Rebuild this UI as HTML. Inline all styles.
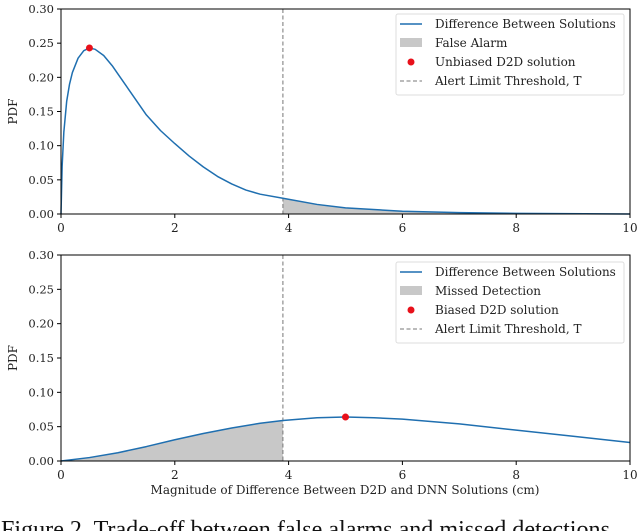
<!DOCTYPE html>
<html><head><meta charset="utf-8"><style>
html,body{margin:0;padding:0;background:#fff;overflow:hidden}
svg{display:block}
text{font-family:"DejaVu Serif","Liberation Serif",serif}
</style></head><body>
<svg id="c" width="640" height="531"></svg>
<script>
const topX=[0,0.02,0.05,0.1,0.15,0.2,0.3,0.4,0.5,0.6,0.75,0.9,1.0,1.25,1.5,1.75,2.0,2.25,2.5,2.75,3.0,3.25,3.5,3.9,4.5,5,6,7,8,10];
const topY=[0.0,0.07,0.12,0.165,0.19,0.207,0.228,0.239,0.243,0.241,0.232,0.217,0.205,0.175,0.145,0.122,0.103,0.085,0.069,0.055,0.044,0.035,0.029,0.023,0.014,0.009,0.004,0.002,0.001,0.0];
const botX=[0,0.5,1,1.5,2,2.5,3,3.5,3.9,4.5,5,5.5,6,7,8,9,10];
const botY=[0,0.005,0.012,0.021,0.031,0.040,0.048,0.055,0.059,0.063,0.064,0.063,0.061,0.054,0.045,0.036,0.027];
const threshold=3.9;
const topMarker=[0.5,0.243];
const botMarker=[5,0.064];
const xTicks=[0,2,4,6,8,10];
const yTicks=[0,0.05,0.10,0.15,0.20,0.25,0.30];
const topLegend=["Difference Between Solutions","False Alarm","Unbiased D2D solution","Alert Limit Threshold, T"];
const botLegend=["Difference Between Solutions","Missed Detection","Biased D2D solution","Alert Limit Threshold, T"];
const NS="http://www.w3.org/2000/svg";
const svg=document.getElementById('c');
function mk(tag,attrs,parent){const e=document.createElementNS(NS,tag);for(const k in attrs)e.setAttribute(k,attrs[k]);(parent||svg).appendChild(e);return e;}
function interp(xs,ys,x){for(let i=0;i<xs.length-1;i++){if(x>=xs[i]&&x<=xs[i+1]){const t=(x-xs[i])/(xs[i+1]-xs[i]);return ys[i]+t*(ys[i+1]-ys[i]);}}return ys[ys.length-1];}
function panel(name,top,bottom,xs,ys,marker,legend,fillRight,lg){
  const L=61,R=630;
  const g=mk('g',{});
  
  
  const sx=v=>L+(R-L)*v/10, sy=v=>bottom-(bottom-top)*v/0.30;
  let fx=fillRight?xs.filter(v=>v>threshold):xs.filter(v=>v<threshold);
  fx=fillRight?[threshold,...fx]:[...fx,threshold];
  let d='M'+sx(fx[0])+','+sy(0);
  fx.forEach(v=>d+=' L'+sx(v)+','+sy(interp(xs,ys,v)));
  d+=' L'+sx(fx[fx.length-1])+','+sy(0)+'Z';
  const f=mk('path',{d:d,fill:'#c8c8c8'},g);
  
  
  const th=mk('line',{x1:sx(threshold),x2:sx(threshold),y1:top,y2:bottom,stroke:'#777','stroke-width':1,'stroke-dasharray':'4,2.5'},g);
  
  
  const pts=xs.map((v,i)=>sx(v)+','+sy(ys[i])).join(' ');
  const ln=mk('polyline',{points:pts,fill:'none',stroke:'#1f6fb0','stroke-width':1.5,'stroke-linejoin':'round'},g);
  
  
  const m=mk('circle',{cx:sx(marker[0]),cy:sy(marker[1]),r:3.5,fill:'#e8101a'},g);
  
  
  const fr=mk('rect',{x:L,y:top,width:R-L,height:bottom-top,fill:'none',stroke:'#000','stroke-width':1},g);
  
  
  xTicks.forEach(v=>{
    mk('line',{x1:sx(v),x2:sx(v),y1:bottom,y2:bottom+4,stroke:'#000'},g);
    const t=mk('text',{x:sx(v),y:bottom+18,'font-size':12,'text-anchor':'middle',fill:'#222'},g);
    t.textContent=v;
    
    
  });
  yTicks.forEach(v=>{
    mk('line',{x1:L-4,x2:L,y1:sy(v),y2:sy(v),stroke:'#000'},g);
    const t=mk('text',{x:L-7,y:sy(v)+4,'font-size':11.5,'text-anchor':'end',fill:'#222'},g);
    t.textContent=v.toFixed(2);
    
    
  });
  const yl=mk('text',{x:0,y:0,'font-size':12,'text-anchor':'middle',fill:'#222',transform:`translate(17,${(top+bottom)/2}) rotate(-90)`},g);
  yl.textContent='PDF';
  
  
  const lgG=mk('g',{},g);
  
  
  mk('rect',{x:lg.x,y:lg.y,width:lg.w,height:lg.h,rx:2,fill:'#fff',stroke:'#ddd'},lgG);
  legend.forEach((s,i)=>{
    const cy=lg.y+10+i*19;
    if(i==0)mk('line',{x1:lg.x+4,x2:lg.x+26,y1:cy,y2:cy,stroke:'#1f6fb0','stroke-width':1.5},lgG);
    if(i==1)mk('rect',{x:lg.x+4,y:cy-5,width:22,height:9,fill:'#c8c8c8'},lgG);
    if(i==2)mk('circle',{cx:lg.x+15,cy:cy,r:3.5,fill:'#e8101a'},lgG);
    if(i==3)mk('line',{x1:lg.x+4,x2:lg.x+26,y1:cy,y2:cy,stroke:'#777','stroke-dasharray':'4,2.5'},lgG);
    const t=mk('text',{x:lg.x+39,y:cy+4,'font-size':12,fill:'#222'},lgG);
    t.textContent=s;
    
    
  });
}
panel('top-panel',9,214,topX,topY,topMarker,topLegend,true,{x:396,y:14,w:228,h:81});
panel('bottom-panel',255,461,botX,botY,botMarker,botLegend,false,{x:396,y:262,w:228,h:81});
const xl=mk('text',{x:345,y:494,'font-size':12,'text-anchor':'middle',fill:'#222'});
xl.textContent='Magnitude of Difference Between D2D and DNN Solutions (cm)';


const cap=mk('text',{x:1,y:537,'font-size':24,fill:'#111',textLength:615,lengthAdjust:'spacingAndGlyphs',style:'font-family:"Liberation Serif",serif'});
cap.textContent='Figure 2. Trade-off between false alarms and missed detections.';


</script>
</body></html>
